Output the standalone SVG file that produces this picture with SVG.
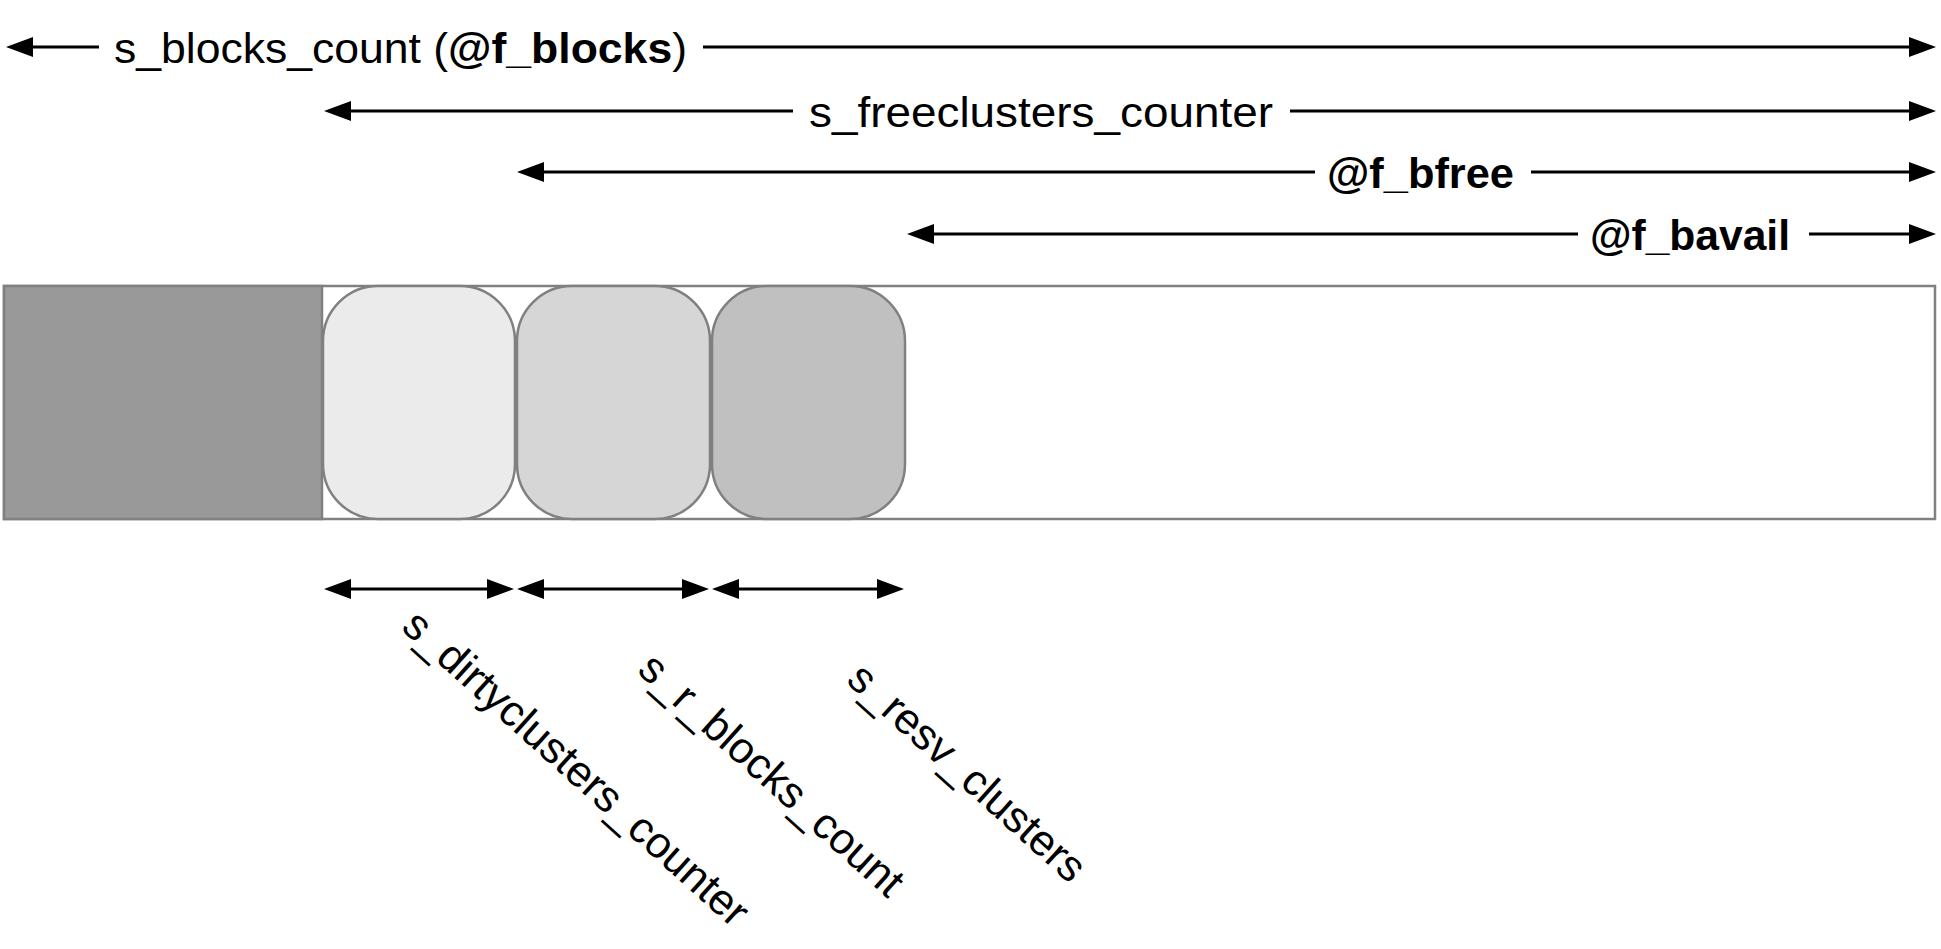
<svg xmlns="http://www.w3.org/2000/svg" width="1941" height="949" viewBox="0 0 1941 949">
  <defs>
    <marker id="ah" viewBox="0 0 27 20" refX="7" refY="10" markerWidth="27" markerHeight="20" markerUnits="userSpaceOnUse" orient="auto-start-reverse">
      <path d="M0,0 L27,10 L0,20 Z" fill="#000"/>
    </marker>
  </defs>
  <style>
    .lbl { font-family: "Liberation Sans", Arial, Helvetica, sans-serif; font-size: 42px; fill: #000; }
    .rot { font-size: 43.6px; }
    .b { font-weight: bold; }
    .dim { stroke: #000; stroke-width: 3; fill: none; }
    .s { marker-start: url(#ah); }
    .e { marker-end: url(#ah); }
    .box { stroke: #808080; stroke-width: 2.5; }
  </style>
  <rect width="1941" height="949" fill="#fff"/>

  <g id="disk">
    <rect id="total" class="box" x="4" y="286" width="1931" height="233" fill="#fff"/>
    <rect id="used" class="box" x="4" y="286" width="318" height="233" fill="#999999"/>
  </g>
  <g id="dirty">
    <rect class="box" x="323" y="286" width="192" height="233" rx="55" ry="55" fill="#EBEBEB"/>
  </g>
  <g id="rblocks">
    <rect class="box" x="517" y="286" width="193" height="233" rx="55" ry="55" fill="#D6D6D6"/>
  </g>
  <g id="resv">
    <rect class="box" x="712" y="286" width="193" height="233" rx="55" ry="55" fill="#C0C0C0"/>
  </g>

  <g id="connectors">
    <line class="dim s" x1="26" y1="47" x2="99" y2="47"/>
    <line class="dim e" x1="703" y1="47" x2="1916" y2="47"/>
    <line class="dim s" x1="344" y1="111" x2="793" y2="111"/>
    <line class="dim e" x1="1290" y1="111" x2="1916" y2="111"/>
    <line class="dim s" x1="537" y1="172" x2="1315" y2="172"/>
    <line class="dim e" x1="1531" y1="172" x2="1916" y2="172"/>
    <line class="dim s" x1="927" y1="234" x2="1578" y2="234"/>
    <line class="dim e" x1="1809" y1="234" x2="1916" y2="234"/>
    <line class="dim s e" x1="344" y1="589" x2="494" y2="589"/>
    <line class="dim s e" x1="537" y1="589" x2="689" y2="589"/>
    <line class="dim s e" x1="732" y1="589" x2="884" y2="589"/>
  </g>

  <g id="labels">
    <text class="lbl" x="114" y="63" textLength="573" lengthAdjust="spacingAndGlyphs">s_blocks_count (<tspan class="b">@f_blocks</tspan>)</text>
    <text class="lbl" x="809" y="127" textLength="464" lengthAdjust="spacingAndGlyphs">s_freeclusters_counter</text>
    <text class="lbl b" x="1327" y="188" textLength="187" lengthAdjust="spacingAndGlyphs">@f_bfree</text>
    <text class="lbl b" x="1590" y="250" textLength="200" lengthAdjust="spacingAndGlyphs">@f_bavail</text>
    <text class="lbl rot" transform="translate(400,629) rotate(42)">s_dirtyclusters_counter</text>
    <text class="lbl rot" transform="translate(636,672) rotate(42)">s_r_blocks_count</text>
    <text class="lbl rot" transform="translate(845,682) rotate(42)">s_resv_clusters</text>
  </g>
</svg>
